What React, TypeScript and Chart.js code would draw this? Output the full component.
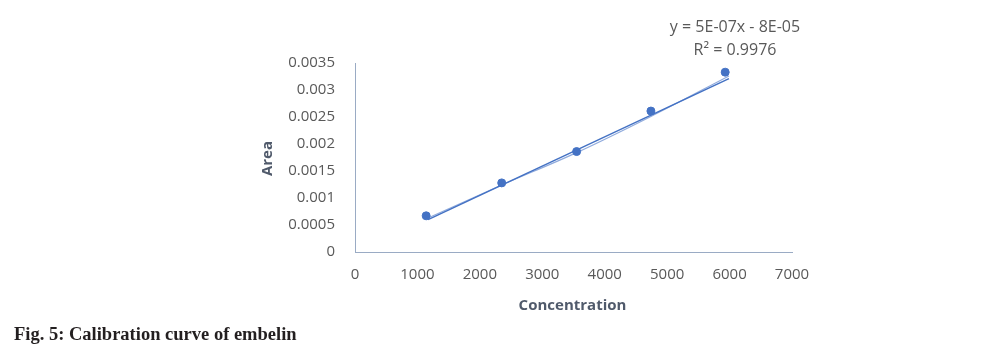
import React, { useEffect, useRef } from "react";
import { Chart, registerables } from "chart.js";

Chart.register(...registerables);

const concentration = [1140, 2350, 3550, 4740, 5930];
const area = [0.00067, 0.00128, 0.00186, 0.00261, 0.00333];

const trendX = [1170, 5990];
const trendY = [0.0006, 0.00321];

const curveX = [1170, 2350, 3550, 4740, 5990];
const curveY = [0.00063, 0.00124, 0.00184, 0.00251, 0.00326];

const xTicks = [0, 1000, 2000, 3000, 4000, 5000, 6000, 7000];
const yTicks = [0, 0.0005, 0.001, 0.0015, 0.002, 0.0025, 0.003, 0.0035];

const equationLine = "y = 5E-07x - 8E-05";
const r2Line = "R² = 0.9976";
const xTitle = "Concentration";
const yTitle = "Area";
const caption = "Fig. 5: Calibration curve of embelin";

const BLUE = "#4472C4";
const TEXT = "#595959";
const TITLE = "#505a6b";
const AXIS = "#9aabc4";
const FONT = "'Open Sans', sans-serif";

const labelsPlugin = {
  id: "labelsPlugin",
  afterDraw(chart: any) {
    const { ctx, chartArea } = chart;
    ctx.save();
    ctx.fillStyle = TITLE;
    ctx.font = `bold 15px ${FONT}`;
    ctx.textAlign = "center";
    ctx.textBaseline = "middle";
    ctx.fillText(xTitle, (chartArea.left + chartArea.right) / 2 - 1, chartArea.bottom + 54);
    ctx.save();
    ctx.translate(chartArea.left - 87, (chartArea.top + chartArea.bottom) / 2 + 1);
    ctx.rotate(-Math.PI / 2);
    ctx.fillText(yTitle, 0, 0);
    ctx.restore();
    ctx.fillStyle = TEXT;
    ctx.font = `16px ${FONT}`;
    const ex = chartArea.right - 57;
    ctx.fillText(equationLine, ex, chartArea.top - 36);
    ctx.fillText(r2Line, ex, chartArea.top - 13);
    ctx.restore();
  },
};

export default function App() {
  const ref = useRef<HTMLCanvasElement>(null);
  useEffect(() => {
    if (!ref.current) return;
    const chart = new Chart(ref.current, {
      type: "scatter",
      data: {
        datasets: [
          {
            type: "line",
            data: trendX.map((x, i) => ({ x, y: trendY[i] })),
            borderColor: BLUE,
            borderWidth: 1.5,
            pointRadius: 0,
            fill: false,
            order: 3,
          },
          {
            type: "line",
            data: curveX.map((x, i) => ({ x, y: curveY[i] })),
            borderColor: "rgba(68,114,196,0.6)",
            borderWidth: 1.2,
            pointRadius: 0,
            tension: 0.4,
            cubicInterpolationMode: "monotone",
            fill: false,
            order: 2,
          },
          {
            data: concentration.map((x, i) => ({ x, y: area[i] })),
            backgroundColor: BLUE,
            borderColor: BLUE,
            pointRadius: 4,
            order: 1,
          },
        ],
      } as any,
      options: {
        animation: false,
        responsive: false,
        maintainAspectRatio: false,
        layout: { padding: { top: 63, right: 207, left: 0, bottom: 0 } },
        plugins: { legend: { display: false }, tooltip: { enabled: false } },
        scales: {
          x: {
            type: "linear",
            min: 0,
            max: 7000,
            afterBuildTicks: (s: any) => {
              s.ticks = xTicks.map((v) => ({ value: v }));
            },
            afterFit: (s: any) => {
              s.height = 107;
            },
            grid: { display: false, drawTicks: false },
            border: { display: true, color: AXIS, width: 1 },
            ticks: {
              color: TEXT,
              font: { family: FONT, size: 15 },
              padding: 14,
              callback: (v: any) => String(Number(v)),
            },
          },
          y: {
            type: "linear",
            min: 0,
            max: 0.0035,
            afterBuildTicks: (s: any) => {
              s.ticks = yTicks.map((v) => ({ value: v }));
            },
            afterFit: (s: any) => {
              s.width = 355;
            },
            grid: { display: false, drawTicks: false },
            border: { display: true, color: AXIS, width: 1 },
            ticks: {
              color: TEXT,
              font: { family: FONT, size: 15 },
              padding: 20,
              callback: (v: any) => String(Number(v)),
            },
          },
        },
      } as any,
      plugins: [labelsPlugin],
    });
    return () => chart.destroy();
  }, []);

  return (
    <div style={{ position: "fixed", left: 0, top: 0, width: 999, height: 359, background: "#fff" }}>
      <canvas ref={ref} width={999} height={359} style={{ position: "absolute", left: 0, top: 0 }} />
      <div
        style={{
          position: "absolute",
          left: 14,
          top: 323,
          fontFamily: "'Liberation Serif', 'Times New Roman', serif",
          fontWeight: "bold",
          fontSize: 18.5,
          lineHeight: "22px",
          color: "#231f20",
          whiteSpace: "nowrap",
        }}
      >
        {caption}
      </div>
    </div>
  );
}
